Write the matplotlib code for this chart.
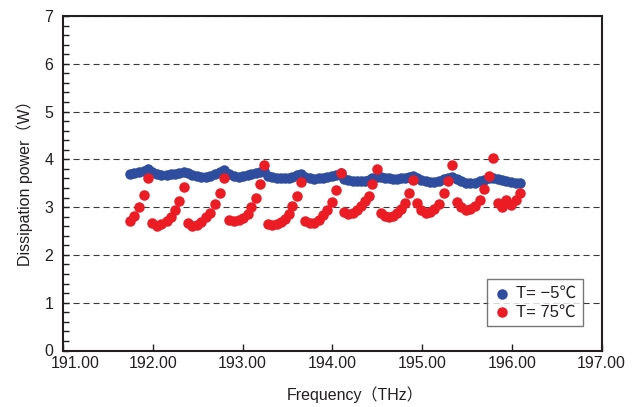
import matplotlib
matplotlib.use('Agg')
import matplotlib.pyplot as plt
import matplotlib.transforms as mtransforms
from matplotlib.ticker import MultipleLocator

plt.rcParams['font.family'] = ['Liberation Sans', 'Noto Sans CJK JP']

# Channel frequencies (THz)
freq = [
    191.747, 191.794, 191.847, 191.897, 191.944,
    191.995, 192.044, 192.097, 192.155, 192.200, 192.248, 192.298, 192.346,
    192.389, 192.441, 192.490, 192.538, 192.590, 192.641, 192.694, 192.746, 192.797,
    192.853, 192.909, 192.964, 193.011, 193.056, 193.100, 193.147, 193.195, 193.243,
    193.287, 193.334, 193.381, 193.426, 193.468, 193.513, 193.557, 193.604, 193.648,
    193.696, 193.747, 193.797, 193.847, 193.897, 193.945, 193.994, 194.045, 194.097,
    194.136, 194.181, 194.228, 194.272, 194.320, 194.365, 194.404, 194.448, 194.495,
    194.543, 194.587, 194.632, 194.677, 194.721, 194.766, 194.810, 194.855, 194.896,
    194.941, 194.989, 195.039, 195.089, 195.139, 195.189, 195.243, 195.293, 195.338,
    195.387, 195.438, 195.490, 195.540, 195.591, 195.641, 195.691, 195.744, 195.794,
    195.843, 195.891, 195.941, 195.992, 196.042, 196.092,
]

# Dissipation power at T = -5 C (W)
power_m5 = [
    3.70, 3.71, 3.73, 3.76, 3.79,
    3.74, 3.70, 3.68, 3.68, 3.69, 3.70, 3.72, 3.73,
    3.71, 3.68, 3.65, 3.64, 3.64, 3.66, 3.70, 3.74, 3.78,
    3.70, 3.66, 3.64, 3.65, 3.67, 3.69, 3.71, 3.73, 3.76,
    3.65, 3.63, 3.62, 3.61, 3.61, 3.62, 3.64, 3.67, 3.69,
    3.63, 3.60, 3.59, 3.60, 3.62, 3.64, 3.66, 3.68, 3.71,
    3.58, 3.56, 3.55, 3.54, 3.54, 3.55, 3.57, 3.60, 3.63,
    3.64, 3.62, 3.60, 3.59, 3.59, 3.60, 3.62, 3.64, 3.66,
    3.61, 3.57, 3.54, 3.53, 3.53, 3.55, 3.58, 3.61, 3.64,
    3.59, 3.55, 3.51, 3.50, 3.51, 3.54, 3.57, 3.60, 3.62,
    3.59, 3.56, 3.54, 3.52, 3.51, 3.50,
]

# Dissipation power at T = 75 C (W)
power_75 = [
    2.71, 2.82, 3.01, 3.25, 3.60,
    2.66, 2.61, 2.65, 2.72, 2.80, 2.93, 3.13, 3.42,
    2.67, 2.61, 2.62, 2.69, 2.79, 2.87, 3.06, 3.29, 3.62,
    2.73, 2.71, 2.74, 2.78, 2.85, 3.01, 3.20, 3.48, 3.88,
    2.65, 2.62, 2.65, 2.69, 2.76, 2.85, 3.03, 3.23, 3.52,
    2.71, 2.67, 2.67, 2.74, 2.83, 2.94, 3.11, 3.36, 3.72,
    2.90, 2.86, 2.87, 2.94, 3.03, 3.13, 3.24, 3.48, 3.79,
    2.88, 2.81, 2.80, 2.81, 2.88, 2.97, 3.08, 3.30, 3.57,
    3.08, 2.94, 2.88, 2.90, 2.97, 3.06, 3.30, 3.55, 3.88,
    3.11, 3.01, 2.95, 2.97, 3.02, 3.14, 3.39, 3.65, 4.02,
    3.09, 3.01, 3.15, 3.04, 3.15, 3.29,
]

series_labels = ['T= \u22125\u2103', 'T= 75\u2103']
x_ticks = [191, 192, 193, 194, 195, 196, 197]
x_tick_labels = ['191.00', '192.00', '193.00', '194.00', '195.00', '196.00', '197.00']
y_ticks = [0, 1, 2, 3, 4, 5, 6, 7]
x_label = 'Frequency\uff08THz\uff09'
y_label = 'Dissipation power\uff08W\uff09'

BLUE = '#2e4d9e'
RED = '#ec1c24'
DARK = '#231f20'

fig = plt.figure(figsize=(6.4, 4.07), dpi=100)
ax = fig.add_axes([63 / 640, 1 - 350.5 / 407, (601.5 - 63) / 640, (350.5 - 16) / 407])

ax.scatter(freq, power_m5, s=57, color=BLUE, linewidths=0, label=series_labels[0], zorder=3)
ax.scatter(freq, power_75, s=57, color=RED, linewidths=0, label=series_labels[1], zorder=4)

ax.set_xlim(191, 197)
ax.set_ylim(0, 7)
ax.set_xticks(x_ticks)
ax.set_xticklabels(x_tick_labels)
ax.set_yticks(y_ticks)
ax.yaxis.set_minor_locator(MultipleLocator(0.2))

ax.grid(axis='y', which='major', color='#3a3a3a', linestyle=(0, (5.5, 3.5)), linewidth=0.8)
ax.set_axisbelow(True)

for sp in ax.spines.values():
    sp.set_color(DARK)
    sp.set_linewidth(1.5)

ax.tick_params(axis='x', which='major', direction='in', length=5, width=1, color=DARK,
               top=False, labelsize=11.5, pad=4, labelcolor=DARK)
ax.tick_params(axis='y', which='major', direction='in', length=4, width=1, color=DARK,
               right=False, labelsize=11.5, pad=7, labelcolor=DARK)
ax.tick_params(axis='y', which='minor', direction='in', length=4, width=1, color=DARK, right=False)

# first x tick label is shifted right in the reference
first = ax.xaxis.get_major_ticks()[0].label1
first.set_transform(first.get_transform() + mtransforms.ScaledTranslation(12 / 100, 0, fig.dpi_scale_trans))

fig.text(287 / 640, 1 - 395 / 407, x_label, ha='left', va='center', fontsize=11.5, color=DARK)
fig.text(25 / 640, 1 - 266 / 407, y_label, ha='center', va='bottom', rotation=90,
         fontsize=11.5, color=DARK)

leg = ax.legend(loc='lower right', bbox_to_anchor=(0.965, 0.073), borderaxespad=0,
                fancybox=False, frameon=True, fontsize=12, handletextpad=0.35,
                borderpad=0.4, labelspacing=0.2, handlelength=1.0, markerscale=1.0)
leg.get_frame().set_edgecolor('#555555')
leg.get_frame().set_linewidth(1.0)
for t in leg.get_texts():
    t.set_color(DARK)

fig.savefig('out.png', dpi=100)
